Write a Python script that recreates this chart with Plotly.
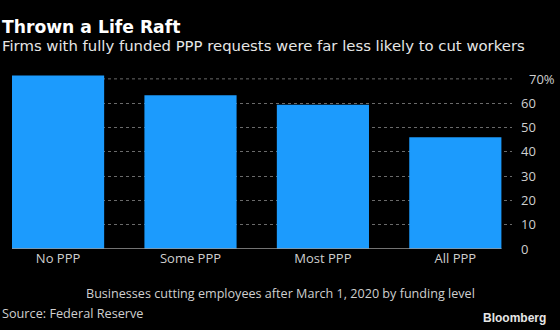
import plotly.graph_objects as go

categories = ["No PPP", "Some PPP", "Most PPP", "All PPP"]
share_cutting = [71.4, 63.3, 59.3, 46.0]
y_ticks = [0, 10, 20, 30, 40, 50, 60]
y_tick_labels = ["0", "10", "20", "30", "40", "50", "60"]

title = "Thrown a Life Raft"
subtitle = "Firms with fully funded PPP requests were far less likely to cut workers"
x_title = "Businesses cutting employees after March 1, 2020 by funding level"
source = "Source: Federal Reserve"

FONT = "Open Sans"
HEAD_FONT = "DejaVu Sans"
TEXT = "#cfcfcf"
BAR = "#1c9bfd"

xs = list(range(len(categories)))
half = 0.348

fig = go.Figure(
    go.Bar(x=xs, y=share_cutting, width=2 * half, marker=dict(color=BAR, line=dict(width=0)),
           hoverinfo="skip")
)

fig.update_layout(
    width=560, height=330,
    margin=dict(l=12, r=48, t=74, b=81, pad=0),
    paper_bgcolor="black", plot_bgcolor="black",
    showlegend=False,
    font=dict(family=FONT, color=TEXT, size=13),
    xaxis=dict(
        range=[-half, 3.428], tickmode="array", tickvals=xs, ticktext=categories,
        showgrid=False, zeroline=False, showline=False, ticks="",
        tickfont=dict(size=13, color=TEXT, family=FONT),
        fixedrange=True,
    ),
    yaxis=dict(
        range=[0, 72], side="right", tickmode="array", tickvals=y_ticks, ticktext=y_tick_labels,
        showgrid=True, gridcolor="#6a6a6a", griddash="dot", gridwidth=1,
        zeroline=False, showline=False, ticks="", ticklabelstandoff=8,
        tickfont=dict(size=13, color=TEXT, family=FONT),
        fixedrange=True,
    ),
)

# top gridline, with its label carrying the unit
fig.add_shape(type="line", xref="paper", yref="y", x0=0, x1=1, y0=70, y1=70,
              line=dict(color="#6a6a6a", width=1, dash="dot"), layer="below")
fig.add_annotation(xref="paper", yref="y", x=1, y=70, xshift=15, text="70%",
                   showarrow=False, xanchor="left", yanchor="middle",
                   font=dict(size=13, color=TEXT, family=FONT))

# baseline under the bars
fig.add_shape(type="line", xref="x", yref="y", x0=-half, x1=3 + half, y0=0, y1=0,
              line=dict(color="#9a9a9a", width=1.5), layer="above")

fig.add_annotation(xref="paper", yref="paper", x=-12 / 500, y=1, yshift=47.5,
                   text="<b>" + title + "</b>", showarrow=False, xanchor="left", yanchor="middle",
                   font=dict(size=17.2, color="white", family=HEAD_FONT))
fig.add_annotation(xref="paper", yref="paper", x=-12 / 500, y=1, yshift=28,
                   text=subtitle, showarrow=False, xanchor="left", yanchor="middle",
                   font=dict(size=14.85, color="#e6e6e6", family=HEAD_FONT))
fig.add_annotation(xref="paper", yref="paper", x=(280 - 12) / 500, y=0, yshift=-44,
                   text=x_title, showarrow=False, xanchor="center", yanchor="middle",
                   font=dict(size=12.6, color=TEXT, family=FONT))
fig.add_annotation(xref="paper", yref="paper", x=-12 / 500, y=0, yshift=-64,
                   text=source, showarrow=False, xanchor="left", yanchor="middle",
                   font=dict(size=12.7, color=TEXT, family=FONT))
fig.add_annotation(xref="paper", yref="paper", x=1 + 36 / 500, y=0, yshift=-69,
                   text="<b>Bloomberg</b>", showarrow=False, xanchor="right", yanchor="middle",
                   font=dict(size=12, color="#e6e6e6", family="Liberation Sans"))

fig.write_html("out.html")
